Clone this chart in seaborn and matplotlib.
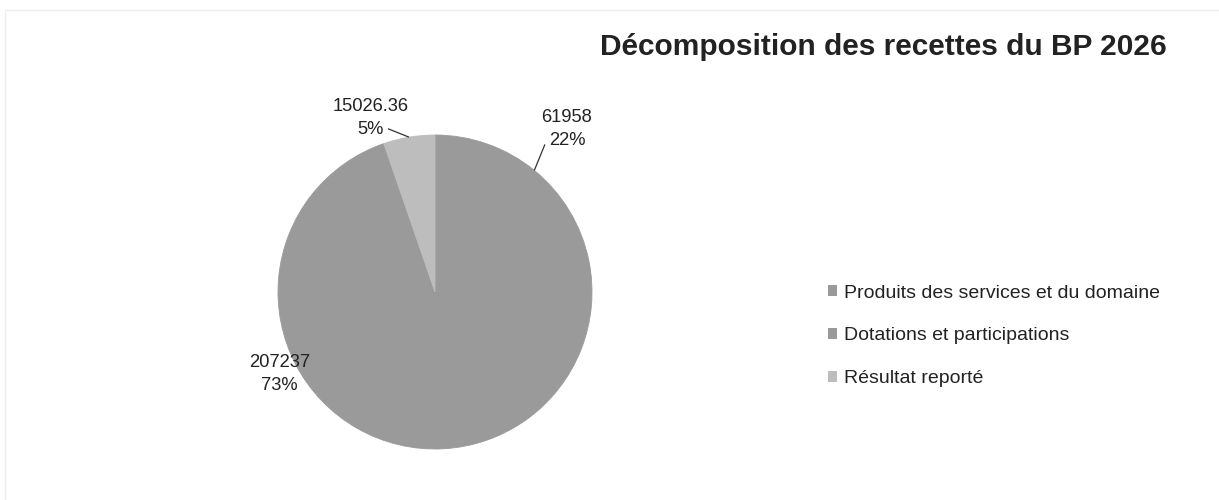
import numpy as np
import matplotlib
matplotlib.use("Agg")
import matplotlib.pyplot as plt
import seaborn as sns

# data
categories = ["Produits des services et du domaine",
              "Dotations et participations",
              "Résultat reporté"]
values = [61958, 207237, 15026.36]
value_labels = ["61958", "207237", "15026.36"]
colors = ["#9a9a9a", "#9a9a9a", "#bdbdbd"]

title = "Décomposition des recettes du BP 2026"

sns.set_theme(style="white")
plt.rcParams["font.family"] = ["Liberation Sans", "DejaVu Sans"]
text_color = "#222222"

fig = plt.figure(figsize=(12.19, 5.0), dpi=100)

# pie axes: centre (435, 292) px, radius 157 px
cx, cy, r = 435, 292, 157
half = 1.25 * r
ax = fig.add_axes([(cx - half) / 1219, (500 - cy - half) / 500,
                   2 * half / 1219, 2 * half / 500])

wedges, _ = ax.pie(values, colors=colors, startangle=90, counterclock=False,
                   wedgeprops=dict(linewidth=0.6))
# hide the antialias seam between the two same-grey slices
for w in wedges:
    w.set_edgecolor(w.get_facecolor())
ax.set_xlim(-1.25, 1.25)
ax.set_ylim(-1.25, 1.25)
ax.set_aspect("equal")
ax.axis("off")

total = sum(values)
pcts = [f"{round(v / total * 100):.0f}%" for v in values]

# label placement (layout only), leader start on label side
label_pos = [(0.84, 1.04), (-0.99, -0.52), (-0.41, 1.11)]
leader_from = [(0.70, 0.94), None, (-0.30, 1.04)]

for w, lab, pct, pos, lf in zip(wedges, value_labels, pcts,
                                 label_pos, leader_from):
    ax.text(pos[0], pos[1], f"{lab}\n{pct}", ha="center", va="center",
            fontsize=13.2, color=text_color, linespacing=1.45)
    if lf is not None:
        mid = np.deg2rad((w.theta1 + w.theta2) / 2)
        ex, ey = np.cos(mid), np.sin(mid)
        ax.plot([lf[0], ex], [lf[1], ey], color="#333333", lw=0.9,
                solid_capstyle="butt", clip_on=False)

fig.text(1167 / 1219, 1 - 47 / 500, title, ha="right", va="center",
         fontsize=21.5, fontweight="bold", color=text_color)

leg = fig.legend(wedges, categories, loc="upper left",
                 bbox_to_anchor=(818 / 1219, 1 - 275 / 500),
                 frameon=False, fontsize=14, handlelength=0.5, handleheight=0.5,
                 handletextpad=0.35, labelspacing=1.32, borderpad=0,
                 labelcolor=text_color)
for h in leg.legend_handles:
    h.set_linewidth(0)

# faint scan frame
fig.add_artist(plt.Line2D([5 / 1219, 1], [1 - 10 / 500, 1 - 10 / 500],
                          transform=fig.transFigure, color="#eeeeee", lw=1))
fig.add_artist(plt.Line2D([5 / 1219, 5 / 1219], [0, 1 - 10 / 500],
                          transform=fig.transFigure, color="#eeeeee", lw=1))

fig.savefig("out.png", dpi=100, facecolor="white")
